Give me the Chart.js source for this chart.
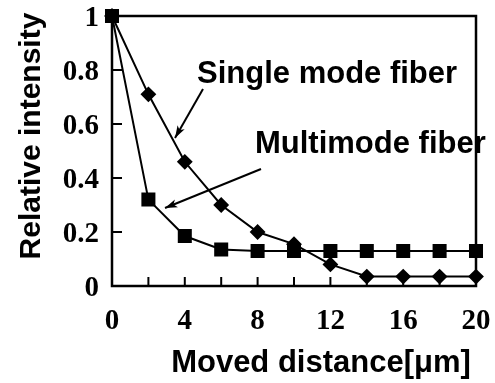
<!DOCTYPE html>
<html><head><meta charset="utf-8">
<script src="https://cdn.jsdelivr.net/npm/chart.js@4"></script>
<style>html,body{margin:0;padding:0;background:#fff}#wrap{width:495px;height:383px}</style>
</head><body><div id="wrap"><canvas id="c" width="495" height="383"></canvas></div>
<script>
const distances = [0, 2, 4, 6, 8, 10, 12, 14, 16, 18, 20];
const singleMode = [1, 0.71, 0.46, 0.30, 0.20, 0.155, 0.08, 0.035, 0.035, 0.035, 0.035];
const multiMode = [1, 0.32, 0.185, 0.135, 0.13, 0.13, 0.13, 0.13, 0.13, 0.13, 0.13];
const xMinorTicks = [2, 4, 6, 8, 10, 12, 14, 16, 18];
const yMinorTicks = [0.2, 0.4, 0.6, 0.8];
const xTitle = 'Moved distance[\u03bcm]';
const yTitle = 'Relative intensity';
const labelSingle = 'Single mode fiber';
const labelMulti = 'Multimode fiber';

const sans = '"Liberation Sans", Arial, sans-serif';
const serif = '"Liberation Serif", "Times New Roman", serif';

const toPts = ys => distances.map((x, i) => ({x, y: ys[i]}));

function arrow(ctx, x1, y1, x2, y2) {
  ctx.beginPath(); ctx.moveTo(x1, y1); ctx.lineTo(x2, y2); ctx.stroke();
  const a = Math.atan2(y2 - y1, x2 - x1), L = 13, w = 0.32;
  ctx.beginPath();
  ctx.moveTo(x2, y2);
  ctx.lineTo(x2 - L * Math.cos(a - w), y2 - L * Math.sin(a - w));
  ctx.lineTo(x2 - L * 0.7 * Math.cos(a), y2 - L * 0.7 * Math.sin(a));
  ctx.lineTo(x2 - L * Math.cos(a + w), y2 - L * Math.sin(a + w));
  ctx.closePath(); ctx.fill();
}

const deco = {
  id: 'deco',
  afterDraw(chart) {
    const {ctx, chartArea: ca, scales: {x, y}} = chart;
    ctx.save();
    ctx.strokeStyle = '#000'; ctx.fillStyle = '#000';
    ctx.lineWidth = 2.5;
    ctx.strokeRect(ca.left, ca.top, ca.right - ca.left, ca.bottom - ca.top);
    ctx.lineWidth = 2;
    ctx.beginPath();
    xMinorTicks.forEach(v => { const px = x.getPixelForValue(v); ctx.moveTo(px, ca.bottom); ctx.lineTo(px, ca.bottom - 9); });
    yMinorTicks.forEach(v => { const py = y.getPixelForValue(v); ctx.moveTo(ca.left, py); ctx.lineTo(ca.left + 10, py); });
    ctx.stroke();
    ctx.lineWidth = 2;
    arrow(ctx, 203, 89, 175, 138);
    arrow(ctx, 261, 169, 165, 208);
    ctx.font = 'bold 31px ' + sans;
    ctx.textAlign = 'left'; ctx.textBaseline = 'alphabetic';
    ctx.fillText(labelSingle, 197, 83);
    ctx.fillText(labelMulti, 255, 153);
    ctx.textAlign = 'center';
    ctx.fillText(xTitle, 321, 372);
    ctx.font = 'bold 30px ' + sans;
    ctx.translate(40, 136);
    ctx.rotate(-Math.PI / 2);
    ctx.fillText(yTitle, 0, 0);
    ctx.restore();
  }
};

new Chart(document.getElementById('c'), {
  type: 'line',
  data: {
    datasets: [
      {label: labelSingle, data: toPts(singleMode), borderColor: '#000', backgroundColor: '#000', borderWidth: 2,
       pointStyle: 'rectRot', pointRadius: 6.5, pointHoverRadius: 6.5, tension: 0, clip: false},
      {label: labelMulti, data: toPts(multiMode), borderColor: '#000', backgroundColor: '#000', borderWidth: 2,
       pointStyle: 'rect', pointRadius: 8.5, pointHoverRadius: 8.5, tension: 0, clip: false}
    ]
  },
  options: {
    responsive: false, animation: false, devicePixelRatio: 1,
    layout: {padding: {top: 16, right: 19, left: 0, bottom: 0}},
    plugins: {legend: {display: false}, tooltip: {enabled: false}},
    scales: {
      x: {type: 'linear', min: 0, max: 20,
          ticks: {stepSize: 4, color: '#000', font: {family: serif, size: 29, weight: 'bold'}, padding: 18, maxRotation: 0, autoSkip: false},
          grid: {display: false, drawTicks: false, tickLength: 0}, border: {display: false},
          afterFit(s) { s.height = 97; s.paddingLeft = 0; s.paddingRight = 0; }},
      y: {min: 0, max: 1,
          ticks: {stepSize: 0.2, color: '#000', font: {family: serif, size: 29, weight: 'bold'}, padding: 13, labelOffset: 3,
                  callback: v => String(+v.toFixed(1))},
          grid: {display: false, drawTicks: false, tickLength: 0}, border: {display: false},
          afterFit(s) { s.width = 112; s.paddingTop = 0; s.paddingBottom = 0; }}
    }
  },
  plugins: [deco]
});
</script></body></html>
